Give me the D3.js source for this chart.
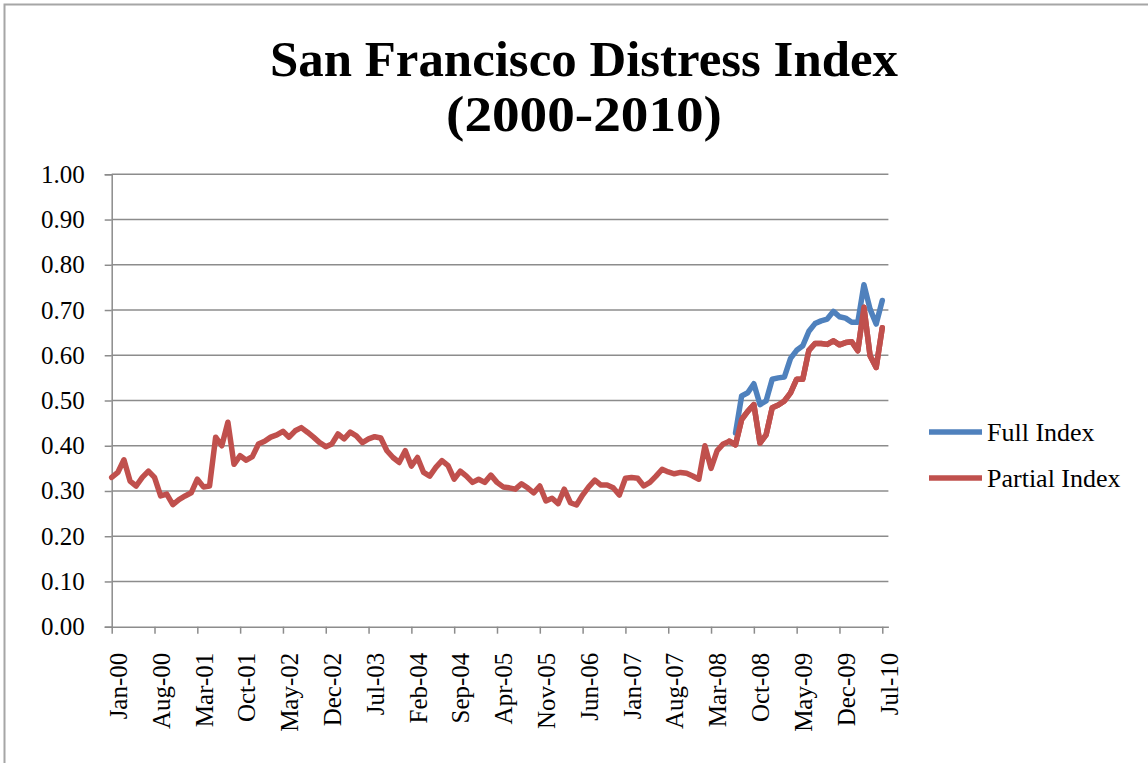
<!DOCTYPE html>
<html><head><meta charset="utf-8">
<script src="https://cdn.jsdelivr.net/npm/d3@7"></script>
<style>html,body{margin:0;padding:0;background:#fff;}svg{display:block;}</style>
</head><body>
<svg id="chart" width="1148" height="763"></svg>
<script>
// ---- data ----
const monthNames = ["Jan","Feb","Mar","Apr","May","Jun","Jul","Aug","Sep","Oct","Nov","Dec"];
const months = [];
for (let y = 0; y <= 10; y++) for (let m = 0; m < 12; m++) {
  if (y === 10 && m > 6) break;
  months.push(monthNames[m] + "-" + String(y).padStart(2, "0"));
}
const tickLabels = ["Jan-00","Aug-00","Mar-01","Oct-01","May-02","Dec-02","Jul-03","Feb-04","Sep-04","Apr-05","Nov-05","Jun-06","Jan-07","Aug-07","Mar-08","Oct-08","May-09","Dec-09","Jul-10"];
const yTicks = [0,0.1,0.2,0.3,0.4,0.5,0.6,0.7,0.8,0.9,1.0];
const partialIndex = [
0.330,0.341,0.369,0.322,0.311,0.330,0.344,0.330,0.289,0.293,
0.270,0.281,0.289,0.296,0.326,0.309,0.311,0.419,0.400,0.452,
0.359,0.378,0.368,0.376,0.404,0.410,0.419,0.424,0.432,0.419,
0.433,0.440,0.430,0.419,0.407,0.398,0.404,0.426,0.415,0.430,
0.422,0.407,0.415,0.420,0.417,0.389,0.374,0.363,0.389,0.355,
0.374,0.341,0.333,0.352,0.367,0.356,0.326,0.344,0.333,0.319,
0.326,0.319,0.335,0.319,0.309,0.307,0.304,0.316,0.307,0.296,
0.311,0.278,0.284,0.272,0.304,0.274,0.269,0.291,0.309,0.324,
0.313,0.313,0.307,0.291,0.328,0.330,0.328,0.311,0.319,0.333,
0.348,0.342,0.338,0.341,0.339,0.333,0.326,0.400,0.350,0.389,
0.404,0.410,0.402,0.458,0.476,0.491,0.406,0.424,0.484,0.490,
0.499,0.517,0.547,0.547,0.611,0.626,0.626,0.624,0.632,0.623,
0.628,0.630,0.610,0.706,0.599,0.573,0.661];
const fullStart = 102;
const fullValues = [
0.428,0.510,0.517,0.537,0.491,0.499,0.547,0.550,0.552,0.593,
0.611,0.621,0.653,0.670,0.676,0.680,0.697,0.685,0.682,0.673,
0.673,0.756,0.702,0.669,0.721];
const fullIndex = months.map((m, i) => i >= fullStart ? fullValues[i - fullStart] : null);
const seriesNames = ["Full Index", "Partial Index"];
const colors = ["#4F81BD", "#C0504D"];

// ---- drawing ----
const svg = d3.select("#chart");
const serif = "'Liberation Serif','Times New Roman',serif";

// outer border
svg.append("rect").attr("x", 4.5).attr("y", 4.5).attr("width", 1160).attr("height", 780)
  .attr("fill", "none").attr("stroke", "#a6a6a6").attr("stroke-width", 2);

const x = d3.scaleLinear().domain([0, months.length]).range([111.7, 888.4]);
const y = d3.scaleLinear().domain([0, 1]).range([626.7, 174.3]);

// title
const title = svg.append("text").attr("text-anchor", "middle")
  .attr("font-family", serif).attr("font-weight", "bold").attr("font-size", 50).attr("fill", "#000");
title.append("tspan").attr("x", 584).attr("y", 76).attr("textLength", 628).attr("lengthAdjust", "spacingAndGlyphs")
  .text("San Francisco Distress Index");
title.append("tspan").attr("x", 584).attr("y", 131).attr("textLength", 276).attr("lengthAdjust", "spacingAndGlyphs")
  .text("(2000-2010)");

// gridlines
svg.append("g").selectAll("line").data(yTicks.filter(d => d > 0)).join("line")
  .attr("x1", x(0)).attr("x2", x(months.length))
  .attr("y1", d => y(d)).attr("y2", d => y(d))
  .attr("stroke", "#8c8c8c").attr("stroke-width", 1.5);

// y axis
const yAxis = d3.axisLeft(y).tickValues(yTicks).tickFormat(d3.format(".2f")).tickSize(7).tickPadding(20);
const gy = svg.append("g").attr("transform", `translate(${x(0)},0)`).call(yAxis);
gy.select(".domain").attr("stroke", "#8c8c8c").attr("stroke-width", 1.5);
gy.selectAll(".tick line").attr("stroke", "#8c8c8c").attr("stroke-width", 1.5);
gy.selectAll(".tick text").attr("font-family", serif).attr("font-size", 25).attr("fill", "#000");

// x axis
const tickIdx = tickLabels.map(l => months.indexOf(l));
const xAxis = d3.axisBottom(x).tickValues(tickIdx).tickFormat(i => months[i]).tickSize(7).tickSizeOuter(0);
const gx = svg.append("g").attr("transform", `translate(0,${y(0)})`).call(xAxis);
gx.select(".domain").attr("stroke", "#8c8c8c").attr("stroke-width", 1.5);
gx.selectAll(".tick line").attr("stroke", "#8c8c8c").attr("stroke-width", 1.5);
gx.selectAll(".tick text").attr("font-family", serif).attr("font-size", 25).attr("fill", "#000")
  .attr("text-anchor", "end").attr("transform", "rotate(-90)")
  .attr("x", -26).attr("y", 6).attr("dy", "0.35em");

// lines
const line = d3.line().defined(d => d != null).x((d, i) => x(i)).y(d => y(d));
const lw = 5.5;
svg.append("path").datum(partialIndex).attr("d", line)
  .attr("fill", "none").attr("stroke", colors[1]).attr("stroke-width", lw).attr("stroke-linejoin", "round").attr("stroke-linecap", "round");
svg.append("path").datum(fullIndex).attr("d", line)
  .attr("fill", "none").attr("stroke", colors[0]).attr("stroke-width", lw).attr("stroke-linejoin", "round").attr("stroke-linecap", "round");
svg.append("path").datum(partialIndex.map((d, i) => i >= fullStart - 1 ? d : null)).attr("d", line)
  .attr("fill", "none").attr("stroke", colors[1]).attr("stroke-width", lw).attr("stroke-linejoin", "round").attr("stroke-linecap", "round");

// legend
const legend = svg.append("g");
const ly = [432, 478];
seriesNames.forEach((n, k) => {
  legend.append("line").attr("x1", 929).attr("x2", 982).attr("y1", ly[k]).attr("y2", ly[k])
    .attr("stroke", colors[k]).attr("stroke-width", lw);
  legend.append("text").attr("x", 987).attr("y", ly[k]).attr("dy", "0.35em")
    .attr("font-family", serif).attr("font-size", 26).attr("fill", "#000").text(n);
});
</script>
</body></html>
